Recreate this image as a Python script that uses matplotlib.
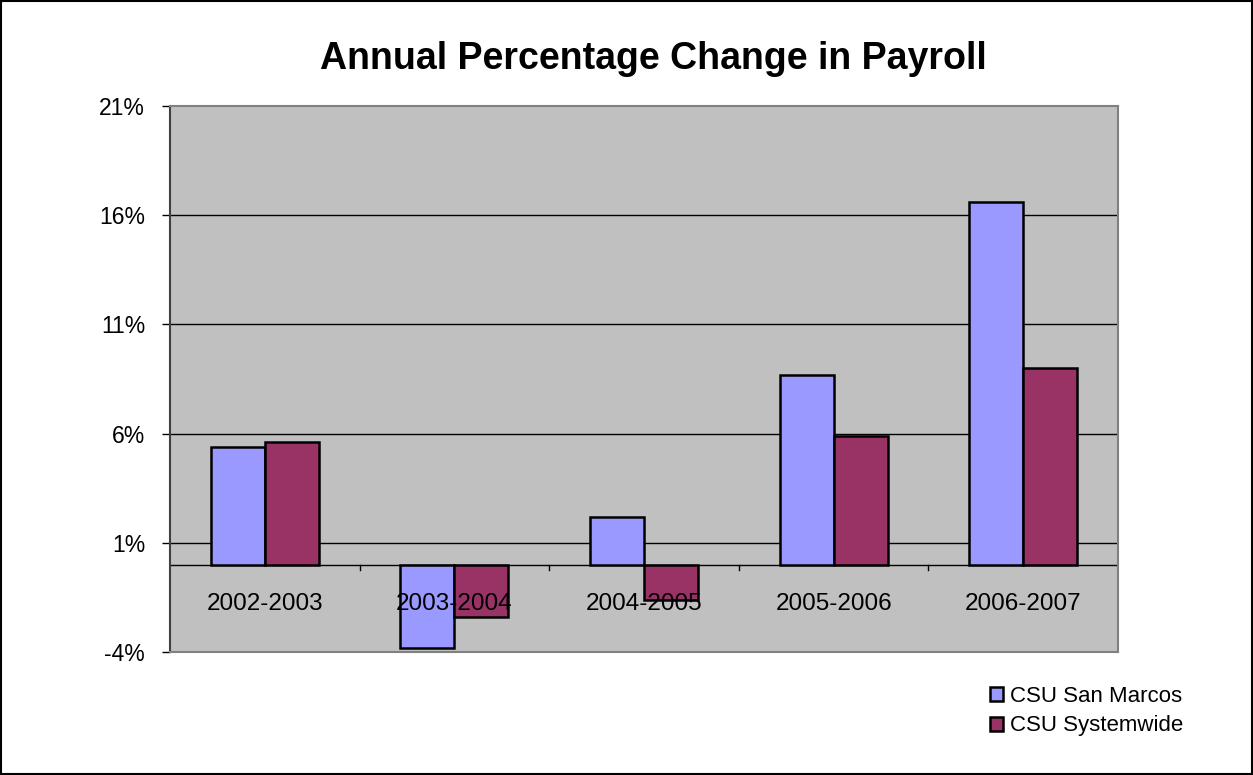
import matplotlib
matplotlib.use("Agg")
import matplotlib.pyplot as plt
import numpy as np
from matplotlib.patches import Rectangle

plt.rcParams['font.family'] = ['Liberation Sans', 'DejaVu Sans']

categories = ["2002-2003", "2003-2004", "2004-2005", "2005-2006", "2006-2007"]
san_marcos = [5.4, -3.8, 2.2, 8.7, 16.6]
systemwide = [5.6, -2.4, -1.6, 5.9, 9.0]
series_names = ["CSU San Marcos", "CSU Systemwide"]
yticks = [-4, 1, 6, 11, 16, 21]

blue = "#9999FF"
plum = "#993366"

fig = plt.figure(figsize=(12.53, 7.75), dpi=100)
ax = fig.add_axes([170 / 1253, 1 - 652 / 775, (1118 - 170) / 1253, (652 - 106) / 775])
ax.set_facecolor("#C0C0C0")

x = np.arange(len(categories))
w = 0.285
ax.bar(x - w / 2, san_marcos, w, color=blue, edgecolor="black", linewidth=1.8, zorder=3,
       label=series_names[0])
ax.bar(x + w / 2, systemwide, w, color=plum, edgecolor="black", linewidth=1.8, zorder=3,
       label=series_names[1])

ax.set_xlim(-0.5, len(categories) - 0.5)
ax.set_ylim(-4, 21)
ax.set_yticks(yticks)
ax.set_yticklabels([f"{v}%" for v in yticks], fontsize=16.5)
ax.tick_params(axis="y", direction="out", length=6, width=1, pad=12, colors="black")
for v in yticks[1:-1]:
    ax.axhline(v, color="black", linewidth=1, zorder=1)

# zero axis with category separators hanging below
ax.axhline(0, color="black", linewidth=1, zorder=2)
ax.set_xticks([])
for b in np.arange(0.5, len(categories) - 0.5, 1.0):
    ax.plot([b, b], [0, -0.25], color="black", linewidth=1, zorder=2)
for i, c in enumerate(categories):
    ax.annotate(c, (i, 0), xytext=(0, -39), textcoords="offset pixels",
                ha="center", va="center", fontsize=17.5, zorder=4)

for side in ["top", "right", "bottom"]:
    ax.spines[side].set_color("#808080")
    ax.spines[side].set_linewidth(1.5)
ax.spines["left"].set_color("#404040")
ax.spines["left"].set_linewidth(1.5)

fig.text(653 / 1253, 1 - 59 / 775, "Annual Percentage Change in Payroll", ha="center",
         va="center", fontsize=27, fontweight="bold")

leg = fig.legend(loc="center left", bbox_to_anchor=(979 / 1253, 1 - 711 / 775), frameon=False,
                 fontsize=16, handlelength=0.6, handleheight=0.6, handletextpad=0.3,
                 labelspacing=0.4, borderpad=0)
for h in leg.legend_handles:
    h.set_linewidth(1.8)

# outer frame around the whole figure
fig.patches.append(Rectangle((0.001, 0.001), 0.998, 0.998, transform=fig.transFigure,
                             fill=False, edgecolor="black", linewidth=1.5))

fig.savefig("out.png", dpi=100)
